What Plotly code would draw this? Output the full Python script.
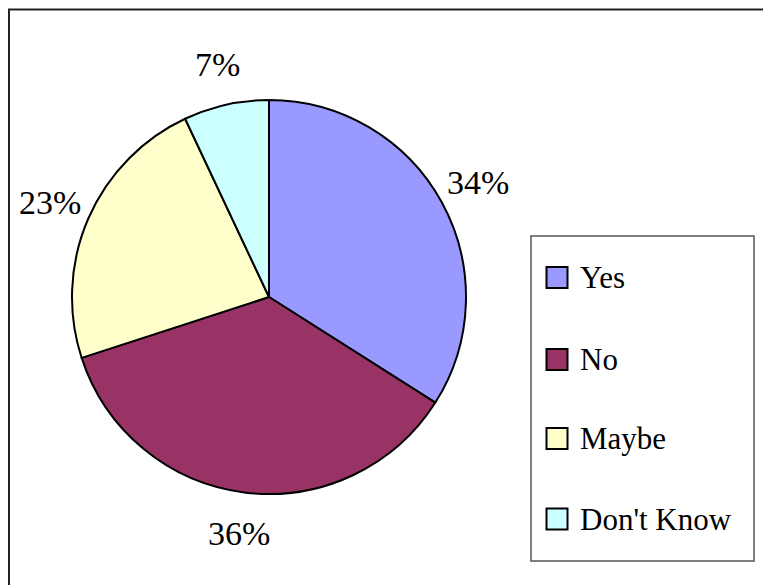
import math
import plotly.graph_objects as go

categories = ["Yes", "No", "Maybe", "Don't Know"]
values = [34, 36, 23, 7]
colors = ["#9999FF", "#993366", "#FFFFCC", "#CCFFFF"]

W, H = 763, 585
FONT = "Liberation Serif"

# pie geometry in pixels
cx, cy, r = 269, 297, 197

def px(x):
    return x / W

def py(y):
    return 1 - y / H

fig = go.Figure(go.Pie(
    labels=categories,
    values=values,
    sort=False,
    direction="clockwise",
    rotation=0,
    textinfo="none",
    hoverinfo="label+percent",
    marker=dict(colors=colors, line=dict(color="black", width=2)),
    domain=dict(x=[px(cx - r), px(cx + r)], y=[py(cy + r), py(cy - r)]),
    showlegend=False,
))

annotations = []
shapes = []

# percentage labels outside the slices
total = sum(values)
cum = 0
for v in values:
    mid = (cum + v / 2) / total * 2 * math.pi
    cum += v
    d = r * 1.21
    lx = cx + d * math.sin(mid)
    ly = cy - d * math.cos(mid)
    annotations.append(dict(
        x=px(lx), y=py(ly), xref="paper", yref="paper",
        text=f"{round(v / total * 100)}%", showarrow=False,
        font=dict(family=FONT, size=34, color="black"),
        xanchor="center", yanchor="middle",
    ))

# outer frame (left & top edges visible)
shapes.append(dict(type="rect", xref="paper", yref="paper",
                   x0=px(9), x1=px(800), y0=py(620), y1=py(9.5),
                   line=dict(color="#222222", width=2), fillcolor="rgba(0,0,0,0)"))

# legend box
shapes.append(dict(type="rect", xref="paper", yref="paper",
                   x0=px(531), x1=px(754), y0=py(561), y1=py(236),
                   line=dict(color="#555555", width=1.5), fillcolor="white"))

leg_y = [277.5, 359.5, 438.5, 519]
for name, col, ly in zip(categories, colors, leg_y):
    shapes.append(dict(type="rect", xref="paper", yref="paper",
                       x0=px(546.5), x1=px(567.5), y0=py(ly + 10.5), y1=py(ly - 10.5),
                       line=dict(color="black", width=2), fillcolor=col))
    annotations.append(dict(
        x=px(578), y=py(ly), xref="paper", yref="paper",
        text=name, showarrow=False,
        font=dict(family=FONT, size=31, color="black"),
        xanchor="left", yanchor="middle",
    ))

fig.update_layout(
    width=W, height=H,
    margin=dict(l=0, r=0, t=0, b=0),
    paper_bgcolor="white",
    plot_bgcolor="white",
    font=dict(family=FONT),
    shapes=shapes,
    annotations=annotations,
)

fig.write_html("out.html", config={"displayModeBar": False},
               post_script="document.body.style.margin='0';")
